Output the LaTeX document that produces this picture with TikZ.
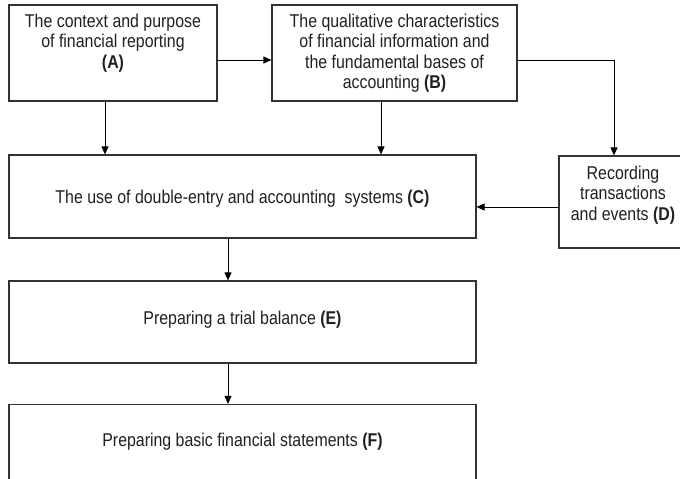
\documentclass[tikz,border=0pt]{standalone}
\usepackage{fontspec}
\setmainfont[FakeStretch=0.86]{Liberation Sans}
\usetikzlibrary{arrows.meta,positioning}
\definecolor{ink}{HTML}{231F20}

\begin{document}
\begin{tikzpicture}[x=1pt,y=-1pt,
  box/.style={draw=black!80,line width=1.2pt,inner sep=0pt},
  txt/.style={text=ink,align=center,inner sep=0pt,font=\fontsize{18.5}{20.5}\selectfont},
  arr/.style={draw=black,line width=1pt,-{Triangle[length=8pt,width=7pt]}}]
\useasboundingbox[fill=white] (0,0) rectangle (680,479);
\node[box,minimum width=208pt,minimum height=96pt] (A) at (113,53) {};
\node[box,minimum width=245pt,minimum height=96pt] (B) at (394.5,53) {};
\node[box,minimum width=467pt,minimum height=83pt] (C) at (242.5,196.5) {};
\node[box,minimum width=128pt,minimum height=92pt] (D) at (623,202) {};
\node[box,minimum width=467pt,minimum height=82pt] (E) at (242.5,322) {};
\node[box,minimum width=467pt,minimum height=83pt] (F) at (242.5,446) {};
\node[txt,anchor=north] (Atext) at ([yshift=-9pt]A.north) {The context and purpose\\of financial reporting\\\textbf{(A)}};
\node[txt,anchor=north] (Btext) at ([yshift=-9pt]B.north) {The qualitative characteristics\\of financial information and\\the fundamental bases of\\accounting \textbf{(B)}};
\node[txt,anchor=north] (Dtext) at ([yshift=-10pt]D.north) {Recording\\transactions\\and events \textbf{(D)}};
\node[txt] (Ctext) at ([yshift=-2pt]C.center) {The use of double-entry and accounting~ systems \textbf{(C)}};
\node[txt] (Etext) at ([yshift=2pt]E.center) {Preparing a trial balance \textbf{(E)}};
\node[txt] (Ftext) at ([yshift=4pt]F.center) {Preparing basic financial statements \textbf{(F)}};
\coordinate (bd) at (614,60);
\draw[arr] ([yshift=-7pt]A.east) -- ([yshift=-7pt]A.east -| B.west);
\draw[arr] ([xshift=-8pt]A.south) -- ([xshift=-8pt]A.south |- C.north);
\draw[arr] ([xshift=-13.5pt]B.south) -- ([xshift=-13.5pt]B.south |- C.north);
\draw[arr] ([yshift=-7pt]B.east) -- (bd) -- (bd |- D.north);
\draw[arr] ([yshift=-5pt]D.west) -- ([yshift=-5pt]D.west -| C.east);
\draw[arr] ([xshift=-14.5pt]C.south) -- ([xshift=-14.5pt]C.south |- E.north);
\draw[arr] ([xshift=-14.5pt]E.south) -- ([xshift=-14.5pt]E.south |- F.north);
\end{tikzpicture}
\end{document}
